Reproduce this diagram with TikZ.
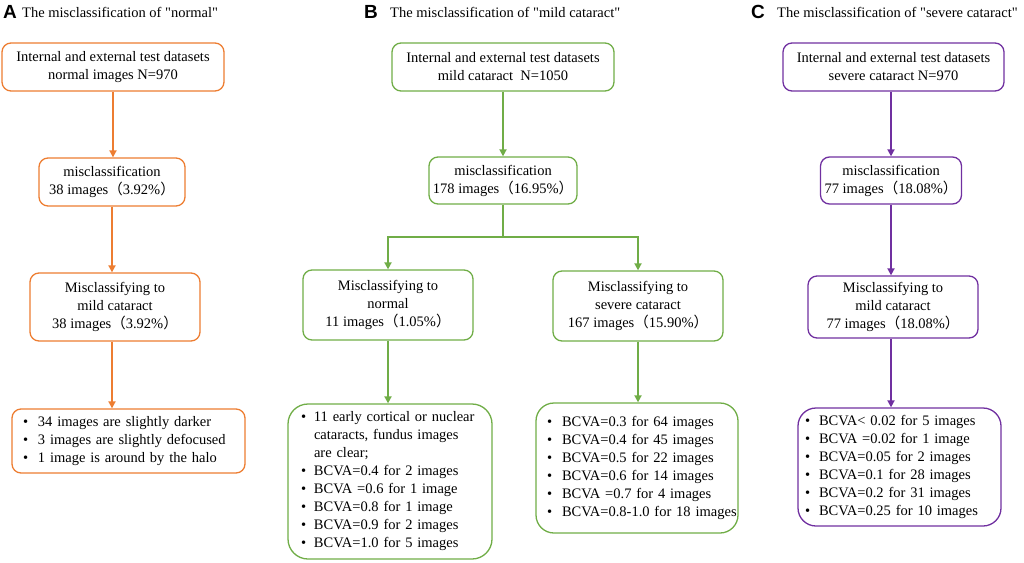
\documentclass[tikz,border=0pt]{standalone}
\usepackage{fontspec}
\setmainfont{Liberation Serif}
\newfontfamily\qfont{Liberation Serif}[Ligatures=TeXOff]
\newfontfamily\cjk{Noto Sans CJK SC}
\newfontfamily\lettfont{Liberation Sans}
\usetikzlibrary{arrows.meta}
\definecolor{orA}{HTML}{ED7D31}
\definecolor{grB}{HTML}{70AD47}
\definecolor{puC}{HTML}{7030A0}
\newcommand\fs{\fontsize{14.5}{18}\selectfont}
\newcommand\lp{{\cjk （}}
\newcommand\rp{{\cjk ）}}
\newcommand\qq{{\qfont "}}
\newcommand\bu[2][14pt]{\makebox[#1][l]{•}\mbox{#2}}
\newcommand\bc[2][14pt]{\hspace*{#1}\mbox{#2}}
\begin{document}
\begin{tikzpicture}[x=1pt,y=-1pt,
  box/.style={draw=#1, rounded corners=9pt, line width=1.3pt, align=center, inner sep=0pt, font=\fs, text=black},
  bul/.style={align=left, inner ysep=0pt},
  arr/.style={draw=#1, line width=1.8pt, -{Triangle[width=7pt,length=7pt]}},
  ln/.style={draw=#1, line width=1.8pt},
  letter/.style={anchor=west, inner sep=0pt, font=\lettfont\bfseries\fontsize{19}{20}\selectfont},
  ttl/.style={anchor=west, inner sep=0pt, font=\fs}]
\useasboundingbox (0,0) rectangle (1024,562);
% titles
\node[letter] (LA) at (3,12) {A};
\node[ttl] (TA) at (22,12) {The misclassification of \qq normal\qq};
\node[letter] (LB) at (364,12) {B};
\node[ttl] (TB) at (390,12) {The misclassification of \qq mild cataract\qq};
\node[letter] (LC) at (751,12) {C};
\node[ttl] (TC) at (777,12) {The misclassification of \qq severe cataract\qq};
% panel A
\node[box=orA, minimum width=222pt, minimum height=48pt] (A1) at (113,67)
  {Internal and external test datasets\\ normal images N=970};
\node[box=orA, minimum width=146pt, minimum height=48pt] (A2) at (112,182)
  {misclassification\\ 38 images\lp 3.92\%\rp};
\node[box=orA, minimum width=170pt, minimum height=68pt] (A3) at (115,307)
  {Misclassifying to\\ mild cataract\\ 38 images\lp 3.92\%\rp};
\node[box=orA, bul, text width=211pt, inner xsep=11pt, minimum height=64pt] (A4) at (128.5,441)
  {\bu[15pt]{34 images are slightly darker}\\ \bu[15pt]{3 images are slightly defocused}\\ \bu[15pt]{1 image is around by the halo}};
\draw[arr=orA] (A1.south) -- (A1.south |- A2.north);
\draw[arr=orA] (A2.south) -- (A2.south |- A3.north);
\draw[arr=orA] (A2.south |- A3.south) -- (A2.south |- A4.north);
% panel B
\node[box=grB, minimum width=222pt, minimum height=48pt] (B1) at (503,67)
  {Internal and external test datasets\\ mild cataract~ N=1050};
\node[box=grB, minimum width=148pt, minimum height=47pt] (B2) at (503,180.5)
  {misclassification\\ 178 images\lp 16.95\%\rp};
\node[box=grB, minimum width=170pt, minimum height=70pt] (B3) at (388,305)
  {Misclassifying to\\ normal\\ 11 images\lp 1.05\%\rp};
\node[box=grB, minimum width=170pt, minimum height=70pt] (B4) at (638,306)
  {Misclassifying to\\ severe cataract\\ 167 images\lp 15.90\%\rp};
\node[box=grB, rounded corners=20pt, bul, text width=178pt, inner xsep=13pt, minimum height=155pt] (B5) at (390,481.5)
  {\bu[13pt]{11 early cortical or nuclear}\\ \bc[13pt]{cataracts, fundus images}\\ \bc[13pt]{are clear;}\\
   \bu[13pt]{BCVA=0.4 for 2 images}\\ \bu[13pt]{BCVA =0.6 for 1 image}\\ \bu[13pt]{BCVA=0.8 for 1 image}\\
   \bu[13pt]{BCVA=0.9 for 2 images}\\ \bu[13pt]{BCVA=1.0 for 5 images}};
\node[box=grB, rounded corners=18pt, bul, text width=180pt, inner xsep=11pt, minimum height=130pt] (B6) at (637,468)
  {\bu[15pt]{BCVA=0.3 for 64 images}\\ \bu[15pt]{BCVA=0.4 for 45 images}\\ \bu[15pt]{BCVA=0.5 for 22 images}\\
   \bu[15pt]{BCVA=0.6 for 14 images}\\ \bu[15pt]{BCVA =0.7 for 4 images}\\ \bu[15pt]{BCVA=0.8-1.0 for 18 images}};
\coordinate (Bj) at (503,237);
\draw[arr=grB] (B1.south) -- (B1.south |- B2.north);
\draw[ln=grB] (B2.south) -- (Bj);
\draw[arr=grB] (Bj) -| (B3.north);
\draw[arr=grB] (Bj) -| (B4.north);
\draw[arr=grB] (B3.south) -- (B3.south |- B5.north);
\draw[arr=grB] (B4.south) -- (B4.south |- B6.north);
% panel C
\node[box=puC, minimum width=221pt, minimum height=48pt] (C1) at (893.5,67)
  {Internal and external test datasets\\ severe cataract N=970};
\node[box=puC, minimum width=141pt, minimum height=47pt] (C2) at (891,180.5)
  {misclassification\\ 77 images\lp 18.08\%\rp};
\node[box=puC, minimum width=170pt, minimum height=62pt] (C3) at (893,307)
  {Misclassifying to\\ mild cataract\\ 77 images\lp 18.08\%\rp};
\node[box=puC, rounded corners=18pt, bul, text width=189pt, inner xsep=7pt, minimum height=118pt] (C4) at (899.5,467)
  {\bu{BCVA< 0.02 for 5 images}\\ \bu{BCVA =0.02 for 1 image}\\ \bu{BCVA=0.05 for 2 images}\\
   \bu{BCVA=0.1 for 28 images}\\ \bu{BCVA=0.2 for 31 images}\\ \bu{BCVA=0.25 for 10 images}};
\draw[arr=puC] (C2.south |- C1.south) -- (C2.north);
\draw[arr=puC] (C2.south) -- (C2.south |- C3.north);
\draw[arr=puC] (C2.south |- C3.south) -- (C2.south |- C4.north);
\end{tikzpicture}
\end{document}
